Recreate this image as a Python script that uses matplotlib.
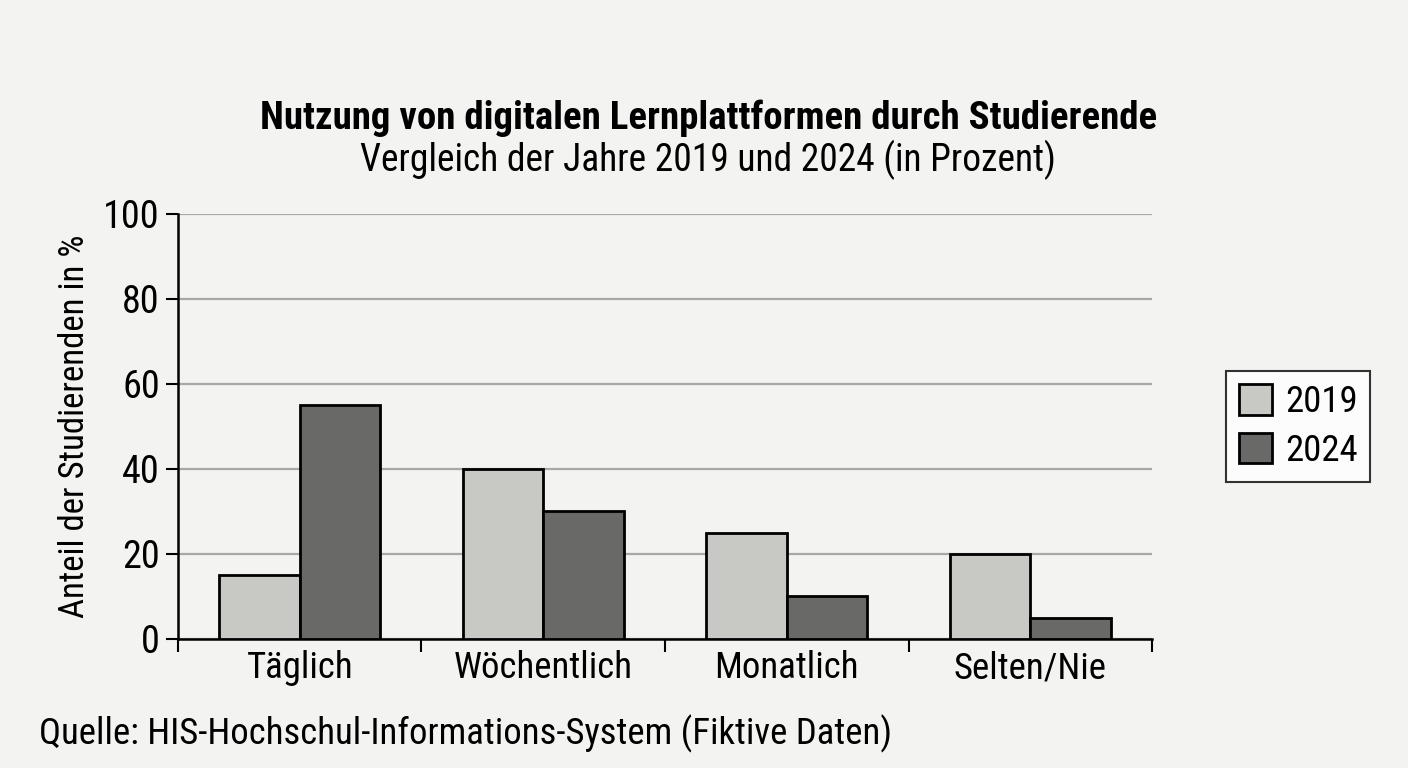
import numpy as np
import matplotlib.pyplot as plt
from matplotlib.ticker import FixedLocator

# Daten
kategorien = ['Täglich', 'Wöchentlich', 'Monatlich', 'Selten/Nie']
werte_2019 = [15, 40, 25, 20]
werte_2024 = [55, 30, 10, 5]
jahre = ['2019', '2024']

# schmale Schrift, falls vorhanden
plt.rcParams['font.family'] = ['Liberation Sans Narrow', 'Roboto Condensed', 'Open Sans Condensed',
                               'Noto Sans Condensed', 'Liberation Sans', 'DejaVu Sans']
plt.rcParams['font.stretch'] = 'condensed'

bg = '#f3f3f1'
fig = plt.figure(figsize=(14.08, 7.68), dpi=100, facecolor=bg)
ax = fig.add_axes([0.1264, 0.168, 0.6918, 0.5534])
ax.set_facecolor(bg)

x = np.arange(len(kategorien))
w = 0.33
ax.bar(x - w / 2, werte_2019, w, color='#c8c8c4', edgecolor='black', linewidth=2, label=jahre[0], zorder=3)
ax.bar(x + w / 2, werte_2024, w, color='#696967', edgecolor='black', linewidth=2, label=jahre[1], zorder=3)

ax.set_xlim(-0.5, len(kategorien) - 0.5)
ax.set_ylim(0, 100)
ax.set_yticks([0, 20, 40, 60, 80, 100])
ax.yaxis.grid(True, color='#a8a8a8', linewidth=1.6, zorder=0)
ax.set_axisbelow(True)

ax.set_xticks(x)
ax.set_xticklabels(kategorien, fontsize=26.5)
ax.tick_params(axis='x', which='major', length=0, pad=8)
ax.xaxis.set_minor_locator(FixedLocator(np.arange(-0.5, len(kategorien), 1.0)))
ax.tick_params(axis='x', which='minor', length=9, width=1.5, color='black')
ax.tick_params(axis='y', length=9, width=1.5, labelsize=27.5, pad=4)

for s in ['top', 'right']:
    ax.spines[s].set_visible(False)
ax.spines['left'].set_linewidth(1.8)
ax.spines['bottom'].set_linewidth(1.8)

ax.set_ylabel('Anteil der Studierenden in %', fontsize=25, labelpad=9)

fig.text(0.503, 0.846, 'Nutzung von digitalen Lernplattformen durch Studierende',
         ha='center', va='center', fontsize=28, fontweight='bold')
fig.text(0.503, 0.792, 'Vergleich der Jahre 2019 und 2024 (in Prozent)',
         ha='center', va='center', fontsize=27)
fig.text(0.028, 0.045, 'Quelle: HIS-Hochschul-Informations-System (Fiktive Daten)',
         ha='left', va='center', fontsize=26.5)

leg = ax.legend(loc='center left', bbox_to_anchor=(1.076, 0.5), fontsize=26.5,
                frameon=True, fancybox=False, edgecolor='black', facecolor='white',
                handlelength=0.9, handleheight=0.9, borderpad=0.35, labelspacing=0.35,
                handletextpad=0.35, borderaxespad=0)
leg.get_frame().set_linewidth(1.5)

fig.savefig('out.png', dpi=100, facecolor=bg)
